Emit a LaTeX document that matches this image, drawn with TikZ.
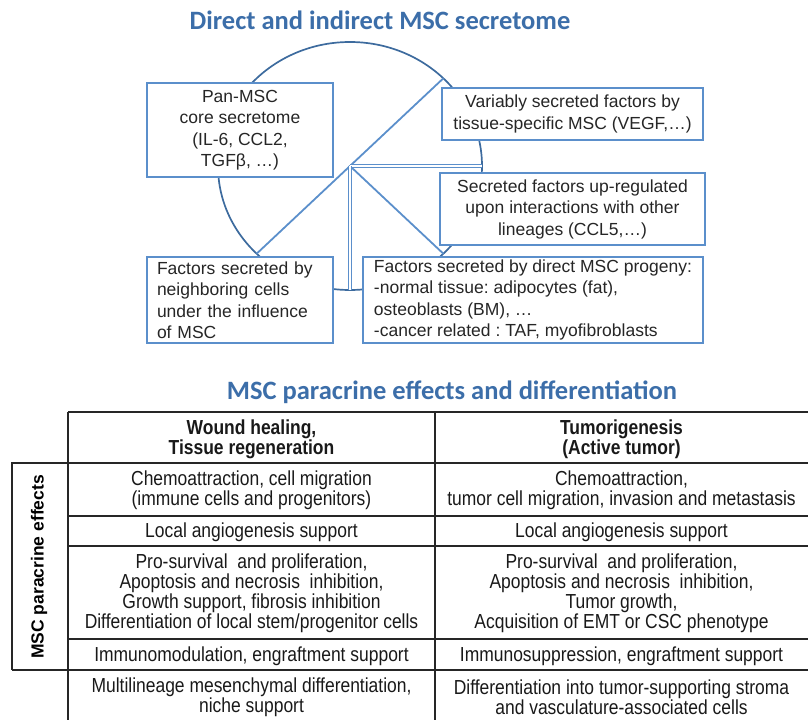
\documentclass[tikz,border=0pt]{standalone}
\usepackage{fontspec}
\setmainfont{Liberation Sans}
\newfontfamily\titlefont{Carlito}
\newfontfamily\narrowfont[FakeStretch=0.86]{Liberation Sans}
\usetikzlibrary{calc,positioning,backgrounds}

\definecolor{titleblue}{HTML}{3C6EA9}
\definecolor{boxblue}{HTML}{5B8FCB}
\definecolor{ringblue}{HTML}{3D6B9E}

\tikzset{
  secbox/.style={draw=boxblue, line width=1.8pt, fill=white, inner sep=0pt,
    font=\fontsize{17.5}{21.5}\selectfont, text=black!85},
  spoke/.style={draw=boxblue, line width=1.8pt},
  dspoke/.style={draw=boxblue, line width=1.2pt, double=white, double distance=1.6pt},
  heading/.style={font=\titlefont\bfseries\fontsize{26.5}{30}\selectfont, text=titleblue},
  cell/.style={font=\narrowfont\fontsize{20.3}{20}\selectfont, align=center, text=black!90},
  headcell/.style={cell, font=\narrowfont\bfseries\fontsize{20.3}{20}\selectfont},
  tline/.style={draw=black!85, line width=1.2pt},
}

\begin{document}
\frenchspacing
\begin{tikzpicture}[x=1pt,y=-1pt]
  \useasboundingbox (0,0) rectangle (808,720);

  % secretome
  \node[heading] (top) at (380,20) {Direct and indirect MSC secretome};

  \coordinate (hub) at (350,166);
  \draw[ringblue, line width=1.7pt] (hub) ellipse [x radius=132pt, y radius=124pt];
  \coordinate (ne) at ($(hub)+(-45:132 and 124)$);
  \coordinate (ea) at ($(hub)+(0:132 and 124)$);
  \coordinate (se) at ($(hub)+(45:132 and 124)$);
  \coordinate (so) at ($(hub)+(90:132 and 124)$);
  \coordinate (sw) at ($(hub)+(135:132 and 124)$);
  \draw[spoke] (sw) -- (hub) -- (ne);
  \draw[spoke] (hub) -- (se);
  \draw[dspoke] (hub) -- (ea);
  \draw[dspoke] (hub) -- (so);

  \node[secbox, minimum width=186pt, minimum height=94pt, align=center] (pan) at (240,130)
    {Pan-MSC\\core secretome\\(IL-6, CCL2,\\TGFβ, \dots)};
  \node[secbox, minimum width=261pt, minimum height=52pt, align=center] (var) at (572.5,114)
    {Variably secreted factors by\\tissue-specific MSC (VEGF,\dots)};
  \node[secbox, minimum width=265pt, minimum height=72pt, align=center] (upreg) at (572.5,209)
    {Secreted factors up-regulated\\upon interactions with other\\lineages (CCL5,\dots)};
  \node[secbox, minimum width=186pt, minimum height=86pt, text width=166pt, align=left] (neigh) at (240,300)
    {Factors secreted by\\neighboring cells\\under the influence\\of MSC};
  \node[secbox, minimum width=340pt, minimum height=86pt, align=left] (prog) at (533,300)
    {Factors secreted by direct MSC progeny:\\-normal tissue: adipocytes (fat),\\osteoblasts (BM), \dots\\-cancer related : TAF, myofibroblasts};

  % table
  \node[heading] (mid) at (452,392) {MSC paracrine effects and differentiation};

  \draw[tline] (68,412) -- (808,412);
  \foreach \y in {463,516,546,639} \draw[tline] (68,\y) -- (808,\y);
  \draw[tline] (12,670) -- (808,670);
  \draw[tline] (68,463) -- (12,463) -- (12,670);
  \draw[tline] (68,412) -- (68,720);
  \draw[tline] (435,412) -- (435,720);

  \node[font=\bfseries\fontsize{17.5}{20}\selectfont, rotate=90] (side) at (39,567) {MSC paracrine effects};

  \node[headcell] (h1) at (251.5,439) {Wound healing,\\Tissue regeneration};
  \node[headcell] (h2) at (621.5,439) {Tumorigenesis\\(Active tumor)};
  \node[cell] (a1) at (251.5,490) {Chemoattraction, cell migration\\(immune cells and progenitors)};
  \node[cell] (a2) at (621.5,490) {Chemoattraction,\\tumor cell migration, invasion and metastasis};
  \node[cell] (b1) at (251.5,532) {Local angiogenesis support};
  \node[cell] (b2) at (621.5,532) {Local angiogenesis support};
  \node[cell] (c1) at (251.5,593.5) {Pro-survival\ \ and proliferation,\\Apoptosis and necrosis\ \ inhibition,\\Growth support, fibrosis inhibition\\Differentiation of local stem/progenitor cells};
  \node[cell] (c2) at (621.5,593.5) {Pro-survival\ \ and proliferation,\\Apoptosis and necrosis\ \ inhibition,\\Tumor growth,\\Acquisition of EMT or CSC phenotype};
  \node[cell] (d1) at (251.5,656) {Immunomodulation, engraftment support};
  \node[cell] (d2) at (621.5,656) {Immunosuppression, engraftment support};
  \node[cell] (e1) at (251.5,697) {Multilineage mesenchymal differentiation,\\niche support};
  \node[cell] (e2) at (621.5,697) {Differentiation into tumor-supporting stroma\\and vasculature-associated cells};
\end{tikzpicture}
\end{document}
